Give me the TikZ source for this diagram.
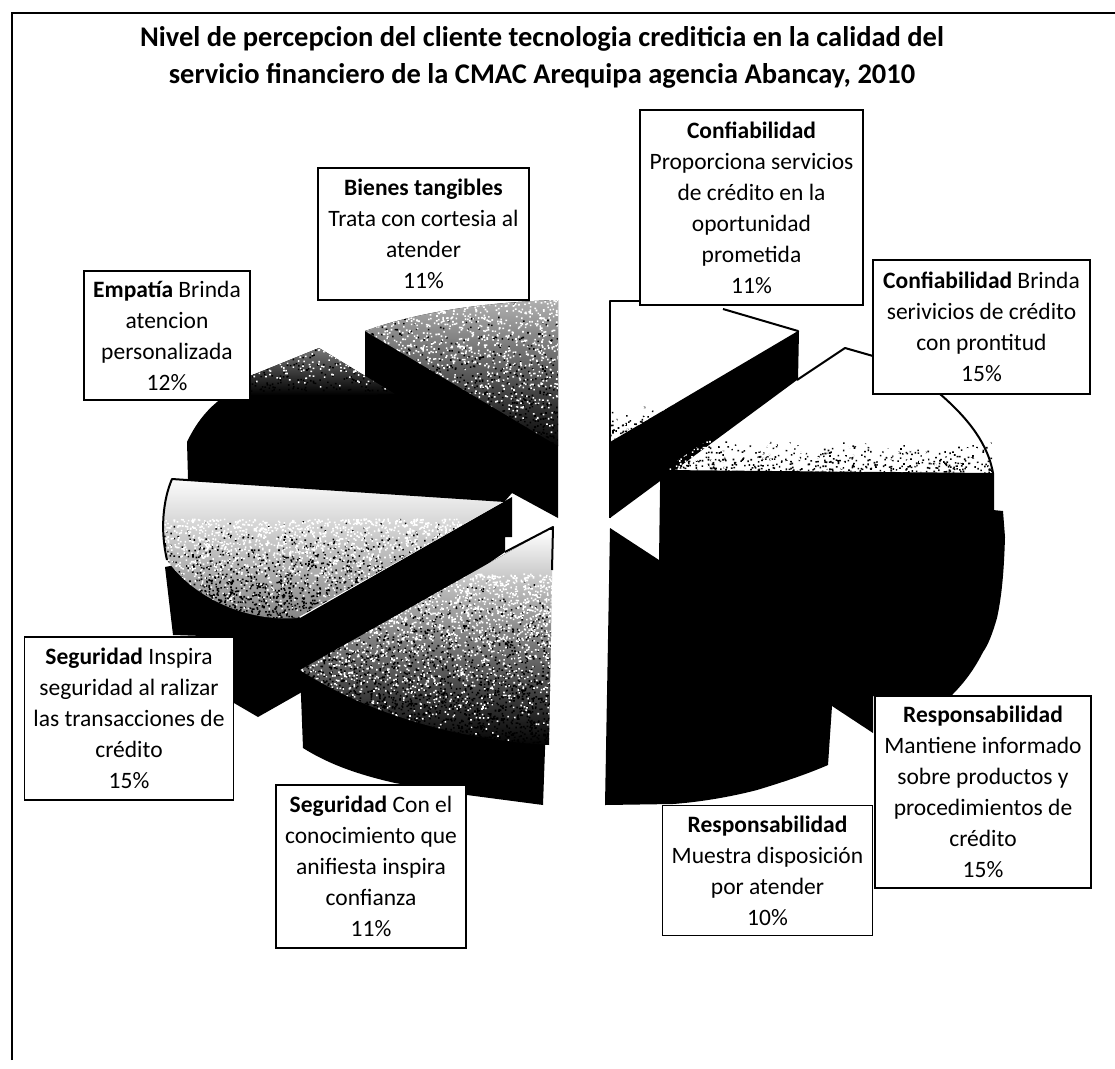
\documentclass[tikz,border=0pt]{standalone}
\usepackage{fontspec}
\setmainfont{Carlito}
\tikzset{
  lab/.style={draw=black,line width=1.9pt,fill=white,align=center,inner sep=0pt,
    font=\fontsize{23.5}{31}\selectfont,text=black},
  ttl/.style={align=center,font=\fontsize{28.5}{37}\selectfont\bfseries,text=black,inner sep=0pt},
  edge/.style={draw=black,line width=2pt,line join=round},
  frameline/.style={draw=black,line width=1.8pt}
}
% one path of black specks (denser downwards), one of white specks (denser upwards)
\newcommand{\grainpass}[6]{%
  \foreach \gi in {1,...,#5}{%
    \pgfmathsetmacro\gx{#1+rnd*(#3-#1)}%
    \pgfmathsetmacro\gy{#2+rnd*(#4-#2)}%
    \pgfmathsetmacro\gt{(\gy-#2)/(#4-#2)}%
    \pgfmathtruncatemacro\gk{rnd<\gt?1:0}%
    \ifnum\gk=#6\relax
      \pgfpathrectangle{\pgfqpoint{\gx pt}{-\gy pt}}{\pgfqpoint{1.6pt}{1.6pt}}%
    \fi
  }%
}
\newcommand{\grainfield}[5]{%
  \begin{pgfscope}\pgfsetfillcolor{black}\grainpass{#1}{#2}{#3}{#4}{#5}{1}\pgfusepath{fill}\end{pgfscope}%
  \begin{pgfscope}\pgfsetfillcolor{white}\grainpass{#1}{#2}{#3}{#4}{#5}{0}\pgfusepath{fill}\end{pgfscope}%
}
\begin{document}
\begin{tikzpicture}[x=1pt,y=-1pt]
\pgfmathsetseed{4711}
\useasboundingbox (0,0) rectangle (1115,1068);
\fill[white] (0,0) rectangle (1115,1068);
% frame
\draw[frameline] (12,1060) -- (12,13) -- (1115,13);
% --- left half ---
% Empatia + Bienes sides
\fill[black] (365,331) .. controls (420,311) and (490,302) .. (558,300) -- (558,518) -- (512,493)
  -- (505,501) -- (172,479) -- (188,479) -- (187,442) .. controls (195,425) and (205,412) .. (217,402)
  -- (250,376) -- (319,348) -- (365,376) -- cycle;
% Bienes top
\begin{scope}
  \clip (365,331) .. controls (420,311) and (490,302) .. (558,300) -- (558,446) -- cycle;
  \shade[top color=gray!60,bottom color=black] (360,298) rectangle (560,450);
  \grainfield{360}{298}{560}{470}{2500}
\end{scope}
% Empatia top
\begin{scope}
  \clip (250,376) -- (319,348) -- (395,394) -- (250,400) -- cycle;
  \shade[top color=gray,bottom color=black] (240,345) rectangle (400,395);
  \grainfield{240}{345}{400}{392}{400}
\end{scope}
% Seguridad Inspira side
\fill[black] (165,567) -- (173,635) -- (234,637) -- (234,703) -- (258,717) -- (302,692) -- (505,552)
  -- (505,537) -- (512,537) -- (512,497) -- (505,501) -- (300,618) -- (280,590) -- (200,560) -- cycle;
% Seguridad Inspira top
\begin{scope}
  \clip (172,479) -- (505,501) -- (297,618) .. controls (250,622) and (195,600) .. (167,560)
    .. controls (160,530) and (163,500) .. (172,479) -- cycle;
  \shade[top color=white,middle color=white,bottom color=gray] (160,475) rectangle (510,625);
  \grainfield{160}{520}{510}{622}{4000}
\end{scope}
\draw[edge] (167,560) .. controls (160,530) and (163,500) .. (172,479) -- (505,501);
% Seguridad Con side
\fill[black] (300,670) -- (303,748) .. controls (330,765) and (360,775) .. (395,783)
  -- (467,795) -- (543,805) -- (553,527) -- cycle;
% Seguridad Con top
\begin{scope}
  \clip (300,670) -- (553,527) -- (549,745) .. controls (460,740) and (370,715) .. (300,670) -- cycle;
  \shade[top color=white,middle color=gray!60,bottom color=black] (295,530) rectangle (556,748);
  \grainfield{295}{575}{556}{748}{5000}
\end{scope}
\draw[edge] (505,552) -- (553,527) -- (552,570);
% --- right half ---
% Confiabilidad slice
\fill[black] (610,442) -- (798,331) -- (797,380) -- (610,518) -- cycle;
\begin{scope}
  \clip (610,305) -- (723,309) -- (798,331) -- (610,442) -- cycle;
  \grainfield{610}{405}{690}{445}{250}
\end{scope}
\draw[edge] (640,301) -- (610,301) -- (610,518);
\draw[edge] (723,309) -- (798,331) -- (797,380);
% pointer of the second label
\draw[edge] (797,380) -- (845,348) -- (873,356);
% Confiabilidad Brinda + Responsabilidad side
\fill[black] (663,470) -- (993,473) -- (993,510) -- (1003,511) -- (1005,537)
  .. controls (1004,570) and (1002,595) .. (997,618) .. controls (992,635) and (988,645) .. (983,652)
  .. controls (975,668) and (965,682) .. (952,695) -- (873,696) -- (873,733) -- (832,706) -- (828,765)
  .. controls (805,775) and (780,783) .. (757,790) .. controls (730,797) and (700,802) .. (673,804)
  -- (605,805) -- (610,528) -- (659,560) -- (660,489) -- (660,470) -- cycle;
\begin{scope}
  \clip (663,470) -- (798,380) -- (993,380) -- (993,473) -- cycle;
  \grainfield{660}{442}{995}{474}{1000}
\end{scope}
\draw[edge] (940,394) .. controls (970,420) and (988,445) .. (993,473) -- (993,510);
\draw[edge] (873,394) -- (940,394);
% --- labels ---
\node[ttl] (titulo) at (542,57) {Nivel de percepcion del cliente tecnologia crediticia en la calidad del\\servicio financiero de la CMAC Arequipa agencia Abancay, 2010};
\node[lab,minimum width=211pt,minimum height=132pt] (bienes) at (423.5,234) {\textbf{Bienes tangibles}\\Trata con cortesia al\\atender\\11\%};
\node[lab,minimum width=223pt,minimum height=195pt] (conf1) at (751.5,207.5) {\textbf{Confiabilidad}\\Proporciona servicios\\de crédito en la\\oportunidad\\prometida\\11\%};
\node[lab,minimum width=217pt,minimum height=134pt] (conf2) at (981.5,327) {\textbf{Confiabilidad} Brinda\\serivicios de crédito\\con prontitud\\15\%};
\node[lab,minimum width=166pt,minimum height=129pt] (empatia) at (167,335.5) {\textbf{Empatía} Brinda\\atencion\\personalizada\\12\%};
\node[lab,minimum width=209pt,minimum height=163pt] (seg1) at (129,718.5) {\textbf{Seguridad} Inspira\\seguridad al ralizar\\las transacciones de\\crédito\\15\%};
\node[lab,minimum width=190pt,minimum height=163pt] (seg2) at (371,866.5) {\textbf{Seguridad} Con el\\conocimiento que\\anifiesta inspira\\confianza\\11\%};
\node[lab,minimum width=210pt,minimum height=130pt] (resp1) at (767.5,870.5) {\textbf{Responsabilidad}\\Muestra disposición\\por atender\\10\%};
\node[lab,minimum width=216pt,minimum height=192pt] (resp2) at (983,792) {\textbf{Responsabilidad}\\Mantiene informado\\sobre productos y\\procedimientos de\\crédito\\15\%};
\end{tikzpicture}
\end{document}
